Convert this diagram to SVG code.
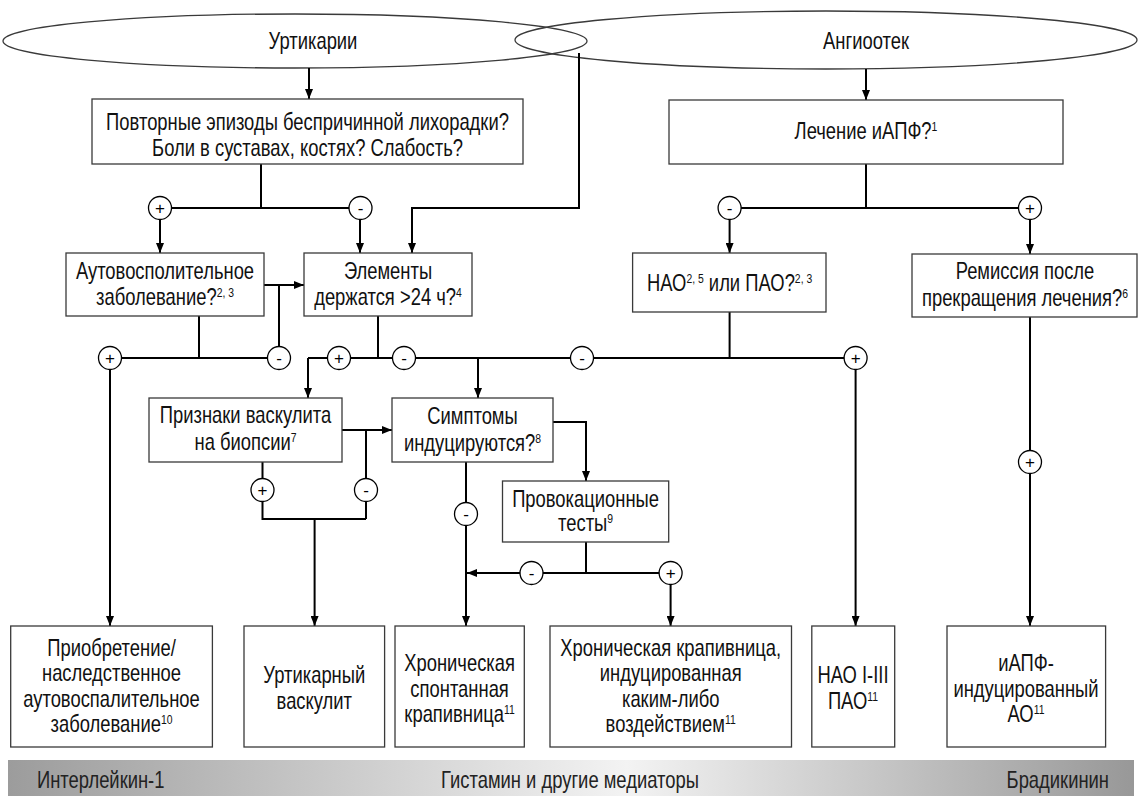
<svg xmlns="http://www.w3.org/2000/svg" width="1138" height="796" viewBox="0 0 1138 796">
<style>
.box{fill:#fff;stroke:#3a3a3a;stroke-width:1.3}
.ell{fill:none;stroke:#3a3a3a;stroke-width:1.3}
.ln{fill:none;stroke:#000;stroke-width:2}
.c{fill:#fff;stroke:#000;stroke-width:1.3}
.t{font-family:"Liberation Sans",Arial,sans-serif;font-size:23px;fill:#111;text-anchor:middle;transform:scale(0.8,1)}
.s{font-size:13px}
.sg{font-family:"Liberation Sans","DejaVu Sans",sans-serif;font-size:17px;fill:#000;text-anchor:middle}
.bt{font-family:"Liberation Sans",Arial,sans-serif;font-size:23px;fill:#222;transform:scale(0.8,1)}
</style>
<defs>
<marker id="ah" markerUnits="userSpaceOnUse" markerWidth="10" markerHeight="8" refX="10" refY="4" orient="auto">
<path d="M0,0 L10,4 L0,8 z" fill="#000"/>
</marker>
<linearGradient id="bar" x1="0" y1="0" x2="1" y2="0">
<stop offset="0" stop-color="#9c9c9c"/>
<stop offset="0.55" stop-color="#f3f3f3"/>
<stop offset="1" stop-color="#989898"/>
</linearGradient>
</defs>

<g id="bar-group">
<rect x="8" y="760" width="1126" height="36" fill="url(#bar)"/>
<text class="bt" x="46.25" y="788">Интерлейкин-1</text>
<text class="bt" x="712.5" y="788" text-anchor="middle">Гистамин и другие медиаторы</text>
<text class="bt" x="1386.25" y="788" text-anchor="end">Брадикинин</text>
</g>

<g id="n-urt"><ellipse class="ell" cx="295" cy="41" rx="292" ry="27"/><text class="t" x="391.25" y="49">Уртикарии</text></g>
<g id="n-ang"><ellipse class="ell" cx="826" cy="40" rx="311" ry="29"/><text class="t" x="1082.5" y="49">Ангиоотек</text></g>

<g id="connectors">
<path class="ln" d="M309,68 V99" marker-end="url(#ah)"/>
<path class="ln" d="M866,69 V100" marker-end="url(#ah)"/>
<path class="ln" d="M261,164 V208 M160,208 H360"/>
<path class="ln" d="M160,208 V253" marker-end="url(#ah)"/>
<path class="ln" d="M360,208 V253" marker-end="url(#ah)"/>
<path class="ln" d="M579,53 V208 H412 V253" marker-end="url(#ah)"/>
<path class="ln" d="M866,164 V208 M729.6,208 H1030"/>
<path class="ln" d="M729.6,208 V253" marker-end="url(#ah)"/>
<path class="ln" d="M1030,208 V254" marker-end="url(#ah)"/>
<path class="ln" d="M264,285 H304" marker-end="url(#ah)"/>
<path class="ln" d="M279,285 V358"/>
<path class="ln" d="M199,316 V358 M110,358 H279"/>
<path class="ln" d="M110,358 V626" marker-end="url(#ah)"/>
<path class="ln" d="M378,316 V358 M308,358 H855.6"/>
<path class="ln" d="M308,358 V398" marker-end="url(#ah)"/>
<path class="ln" d="M478,358 V398" marker-end="url(#ah)"/>
<path class="ln" d="M729.6,312 V358"/>
<path class="ln" d="M855.6,358 V626" marker-end="url(#ah)"/>
<path class="ln" d="M342,430 H392" marker-end="url(#ah)"/>
<path class="ln" d="M366,430 V519"/>
<path class="ln" d="M262.5,462 V519 H366"/>
<path class="ln" d="M314.6,519 V626" marker-end="url(#ah)"/>
<path class="ln" d="M553,422 H586 V481" marker-end="url(#ah)"/>
<path class="ln" d="M466,462 V626" marker-end="url(#ah)"/>
<path class="ln" d="M586,542 V573 H467" marker-end="url(#ah)"/>
<path class="ln" d="M586,573 H670.6 V626" marker-end="url(#ah)"/>
<path class="ln" d="M1030,317 V626" marker-end="url(#ah)"/>

<g id="signs">
<circle class="c" cx="160" cy="208" r="11.5"/><text class="sg" x="160" y="214">+</text>
<circle class="c" cx="360.5" cy="208" r="11.5"/><text class="sg" x="360.5" y="214">-</text>
<circle class="c" cx="729.6" cy="208" r="11.5"/><text class="sg" x="729.6" y="214">-</text>
<circle class="c" cx="1030" cy="208" r="11.5"/><text class="sg" x="1030" y="214">+</text>
<circle class="c" cx="110" cy="358" r="11.5"/><text class="sg" x="110" y="364">+</text>
<circle class="c" cx="279" cy="358" r="11.5"/><text class="sg" x="279" y="364">-</text>
<circle class="c" cx="339" cy="358" r="11.5"/><text class="sg" x="339" y="364">+</text>
<circle class="c" cx="404" cy="358" r="11.5"/><text class="sg" x="404" y="364">-</text>
<circle class="c" cx="582" cy="358" r="11.5"/><text class="sg" x="582" y="364">-</text>
<circle class="c" cx="855.6" cy="358" r="11.5"/><text class="sg" x="855.6" y="364">+</text>
<circle class="c" cx="262.5" cy="490" r="11.5"/><text class="sg" x="262.5" y="496">+</text>
<circle class="c" cx="366" cy="490" r="11.5"/><text class="sg" x="366" y="496">-</text>
<circle class="c" cx="466" cy="514" r="11.5"/><text class="sg" x="466" y="520">-</text>
<circle class="c" cx="531.5" cy="573" r="11.5"/><text class="sg" x="531.5" y="579">-</text>
<circle class="c" cx="670.6" cy="573" r="11.5"/><text class="sg" x="670.6" y="579">+</text>
<circle class="c" cx="1030" cy="462" r="11.5"/><text class="sg" x="1030" y="468">+</text>
</g>
</g>

<g id="n-fever"><rect class="box" x="92" y="99" width="431" height="65"/>
<text class="t" x="384.38" y="130">Повторные эпизоды беспричинной лихорадки?</text>
<text class="t" x="384.38" y="156">Боли в суставах, костях? Слабость?</text></g>

<g id="n-ace"><rect class="box" x="669" y="100" width="394" height="64"/>
<text class="t" x="1082.5" y="139">Лечение иАПФ?<tspan class="s" dy="-8">1</tspan></text></g>

<g id="n-autoinfl"><rect class="box" x="66" y="253" width="198" height="63"/>
<text class="t" x="206.25" y="279">Аутовосполительное</text>
<text class="t" x="206.25" y="305">заболевание?<tspan class="s" dy="-8">2, 3</tspan></text></g>

<g id="n-elements"><rect class="box" x="304" y="253" width="168" height="63"/>
<text class="t" x="485" y="279">Элементы</text>
<text class="t" x="485" y="305">держатся &gt;24 ч?<tspan class="s" dy="-8">4</tspan></text></g>

<g id="n-hao"><rect class="box" x="632.6" y="253" width="193.4" height="59"/>
<text class="t" x="912" y="291">НАО<tspan class="s" dy="-8">2, 5</tspan><tspan dy="8"> или ПАО?</tspan><tspan class="s" dy="-8">2, 3</tspan></text></g>

<g id="n-remission"><rect class="box" x="912" y="254" width="225" height="63"/>
<text class="t" x="1281.25" y="279">Ремиссия после</text>
<text class="t" x="1281.25" y="306">прекращения лечения?<tspan class="s" dy="-8">6</tspan></text></g>

<g id="n-biopsy"><rect class="box" x="149" y="398" width="193" height="64"/>
<text class="t" x="306.88" y="423">Признаки васкулита</text>
<text class="t" x="306.88" y="450">на биопсии<tspan class="s" dy="-8">7</tspan></text></g>

<g id="n-induced"><rect class="box" x="392" y="398" width="161" height="64"/>
<text class="t" x="590.63" y="424">Симптомы</text>
<text class="t" x="590.63" y="451">индуцируются?<tspan class="s" dy="-8">8</tspan></text></g>

<g id="n-provoc"><rect class="box" x="502.5" y="481" width="166.2" height="61"/>
<text class="t" x="732" y="507">Провокационные</text>
<text class="t" x="732" y="531">тесты<tspan class="s" dy="-8">9</tspan></text></g>

<g id="n-a"><rect class="box" x="10.7" y="626" width="201.7" height="121"/>
<text class="t" x="139.38" y="656">Приобретение/</text>
<text class="t" x="139.38" y="681">наследственное</text>
<text class="t" x="139.38" y="707">аутовоспалительное</text>
<text class="t" x="139.38" y="732">заболевание<tspan class="s" dy="-8">10</tspan></text></g>

<g id="n-b"><rect class="box" x="244" y="626" width="140.6" height="121"/>
<text class="t" x="392.88" y="683">Уртикарный</text>
<text class="t" x="392.88" y="709">васкулит</text></g>

<g id="n-c"><rect class="box" x="395" y="626" width="129.3" height="121"/>
<text class="t" x="574.5" y="671">Хроническая</text>
<text class="t" x="574.5" y="697">спонтанная</text>
<text class="t" x="574.5" y="722">крапивница<tspan class="s" dy="-8">11</tspan></text></g>

<g id="n-d"><rect class="box" x="550" y="626" width="241.5" height="121"/>
<text class="t" x="838.38" y="656">Хроническая крапивница,</text>
<text class="t" x="838.38" y="681">индуцированная</text>
<text class="t" x="838.38" y="707">каким-либо</text>
<text class="t" x="838.38" y="732">воздействием<tspan class="s" dy="-8">11</tspan></text></g>

<g id="n-e"><rect class="box" x="811.8" y="626" width="82.9" height="121"/>
<text class="t" x="1066.25" y="683">НАО I-III</text>
<text class="t" x="1066.25" y="709">ПАО<tspan class="s" dy="-8">11</tspan></text></g>

<g id="n-f"><rect class="box" x="947" y="626" width="158.6" height="121"/>
<text class="t" x="1282.5" y="671">иАПФ-</text>
<text class="t" x="1282.5" y="697">индуцированный</text>
<text class="t" x="1282.5" y="722">АО<tspan class="s" dy="-8">11</tspan></text></g>
</svg>
